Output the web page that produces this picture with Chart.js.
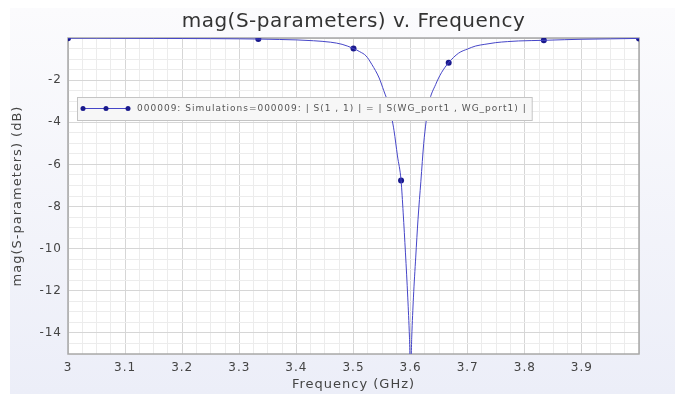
<!DOCTYPE html>
<html>
<head>
<meta charset="utf-8">
<script src="https://cdn.jsdelivr.net/npm/chart.js@4.4.1/dist/chart.umd.min.js"></script>
<style>
  html, body { margin: 0; padding: 0; background: #fff; }
  canvas { display: block; }
</style>
</head>
<body>
<canvas id="myChart" width="675" height="394"></canvas>
<script>
// ** curve (GHz, dB)
const freqGHz = [
  3.0, 3.05, 3.1, 3.15, 3.2, 3.25, 3.3, 3.3333, 3.37, 3.4, 3.43, 3.46, 3.48, 3.5,
  3.511, 3.522, 3.532, 3.545, 3.553, 3.562, 3.567, 3.571, 3.577, 3.5833, 3.587,
  3.591, 3.595, 3.598, 3.6, 3.602, 3.605, 3.609, 3.613, 3.618, 3.623, 3.627, 3.632,
  3.644, 3.654, 3.6667, 3.684, 3.7, 3.714, 3.73, 3.749, 3.77, 3.789, 3.8333, 3.87,
  3.9, 3.95, 4.0
]
const magDb = [
  -0.01, -0.01, -0.015, -0.02, -0.025, -0.03, -0.04, -0.05, -0.07, -0.09, -0.13, -0.2, -0.3, -0.5,
  -0.65, -0.85, -1.25, -1.9, -2.5, -3.2, -3.8, -4.4, -5.6, -6.76, -8.3,
  -10.2, -12.3, -14.2, -16, -14.2, -12.3, -10.4, -8.6, -6.8, -5.0, -4.0, -3.1,
  -2.2, -1.65, -1.17, -0.72, -0.52, -0.38, -0.3, -0.22, -0.17, -0.14, -0.11, -0.08,
  -0.06, -0.04, -0.02
]

// ** simulated sample points (the dots)
const sampleFreqGHz = [3.0, 3.3333, 3.5, 3.5833, 3.6667, 3.8333, 4.0]
const sampleDb = [-0.01, -0.05, -0.5, -6.76, -1.17, -0.11, -0.02]

// ** axis ticks
const xTickLabels = ['3', '3.1', '3.2', '3.3', '3.4', '3.5', '3.6', '3.7', '3.8', '3.9']
const yTickLabels = ['-2', '-4', '-6', '-8', '-10', '-12', '-14']

const chartTitle = 'mag(S-parameters) v. Frequency'
const legendText = '000009: Simulations=000009: | S(1 , 1) | = | S(WG_port1 , WG_port1) |'
const lineColor = 'rgb(70, 70, 200)'
const dotColor = 'rgb(25, 25, 140)'

const fontFamily = "'DejaVu Sans', sans-serif"

const isMajorX = v => Math.abs(v * 10 - Math.round(v * 10)) < 1e-6
const isMajorY = v => Math.abs(v / 2 - Math.round(v / 2)) < 1e-6

// the original renderer spaces its glyphs out a bit
const spacing = {
  id: 'spacing',
  beforeLayout(chart) { chart.ctx.letterSpacing = '1px' },
  beforeDraw(chart) { chart.ctx.letterSpacing = '1px' }
}

const backdrop = {
  id: 'backdrop',
  beforeDraw(chart) {
    const { ctx, chartArea: a } = chart
    ctx.save()
    ctx.fillStyle = '#ffffff'
    ctx.fillRect(0, 0, chart.width, chart.height)
    const g = ctx.createLinearGradient(0, 8, 0, chart.height)
    g.addColorStop(0, '#fbfbfd')
    g.addColorStop(1, '#eceef8')
    ctx.fillStyle = g
    ctx.fillRect(10, 8, chart.width - 10, chart.height - 8)
    ctx.fillStyle = '#ffffff'
    ctx.fillRect(a.left, a.top, a.right - a.left, a.bottom - a.top)

    // title, centred over the plot
    ctx.letterSpacing = '0.5px'
    ctx.font = '20px ' + fontFamily
    ctx.fillStyle = '#333'
    ctx.textAlign = 'center'
    ctx.textBaseline = 'middle'
    ctx.fillText(chartTitle, (a.left + a.right) / 2, 22)
    ctx.restore()
  },
  beforeDatasetsDraw(chart) {
    const { ctx, chartArea: a } = chart
    ctx.save()
    ctx.strokeStyle = '#a8a8a8'
    ctx.lineWidth = 1.5
    ctx.strokeRect(a.left, a.top, a.right - a.left, a.bottom - a.top)
    ctx.restore()
  },
  afterDraw(chart) {
    // legend box sits inside the plot
    const { ctx, chartArea: a } = chart
    ctx.save()
    ctx.letterSpacing = '1px'
    ctx.font = '9px ' + fontFamily
    const tw = ctx.measureText(legendText).width
    const x0 = a.left + 9, y0 = 97, h = 23
    const textX = x0 + 60
    const w = textX - x0 + tw + 5
    ctx.fillStyle = '#f7f7f7'
    ctx.strokeStyle = '#c4c4c4'
    ctx.lineWidth = 1
    ctx.fillRect(x0, y0, w, h)
    ctx.strokeRect(x0 + 0.5, y0 + 0.5, w, h)
    const cy = y0 + h / 2
    ctx.strokeStyle = lineColor
    ctx.beginPath()
    ctx.moveTo(x0 + 6, cy)
    ctx.lineTo(x0 + 51, cy)
    ctx.stroke()
    ctx.fillStyle = dotColor
    for (const dx of [6, 29, 51]) {
      ctx.beginPath()
      ctx.arc(x0 + dx, cy, 2.5, 0, Math.PI * 2)
      ctx.fill()
    }
    ctx.fillStyle = '#555'
    ctx.textBaseline = 'middle'
    ctx.fillText(legendText, textX, cy + 0.5)
    ctx.restore()
  }
}

const ctx = document.getElementById('myChart').getContext('2d')
const myChart = new Chart(ctx, {
  type: 'scatter',
  data: {
    datasets: [
      {
        data: freqGHz.map((f, i) => ({ x: f, y: magDb[i] })),
        showLine: true,
        borderColor: lineColor,
        borderWidth: 1,
        pointRadius: 0,
        cubicInterpolationMode: 'monotone'
      },
      {
        data: sampleFreqGHz.map((f, i) => ({ x: f, y: sampleDb[i] })),
        showLine: false,
        pointRadius: 3,
        pointBackgroundColor: dotColor,
        pointBorderColor: dotColor,
        pointBorderWidth: 0
      }
    ]
  },
  options: {
    responsive: false,
    animation: false,
    layout: { padding: { left: 0, right: 36, top: 38, bottom: 0 } },
    plugins: {
      legend: { display: false },
      tooltip: { enabled: false },
      title: { display: false }
    },
    scales: {
      x: {
        type: 'linear',
        min: 3,
        max: 4,
        afterFit: s => { s.height = 40 },
        border: { display: false },
        grid: {
          drawTicks: false,
          color: c => (isMajorX(c.tick.value) ? '#d6d6d6' : '#ececec'),
          lineWidth: 1
        },
        ticks: {
          stepSize: 0.025,
          autoSkip: false,
          maxRotation: 0,
          padding: 7,
          color: '#444',
          font: { family: fontFamily, size: 12 },
          callback: v => {
            if (!isMajorX(v)) return ''
            const lbl = String(Math.round(v * 10) / 10)
            return xTickLabels.includes(lbl) ? lbl : ''
          }
        },
        title: {
          display: true,
          text: 'Frequency (GHz)',
          color: '#444',
          font: { family: fontFamily, size: 13 },
          padding: { top: 0, bottom: 2 }
        }
      },
      y: {
        min: -15,
        max: 0,
        afterFit: s => { s.width = 68 },
        border: { display: false },
        grid: {
          drawTicks: false,
          color: c => (isMajorY(c.tick.value) ? '#d6d6d6' : '#ececec'),
          lineWidth: 1
        },
        ticks: {
          stepSize: 0.5,
          autoSkip: false,
          padding: 6,
          color: '#444',
          font: { family: fontFamily, size: 12 },
          callback: v => {
            if (!isMajorY(v)) return ''
            const lbl = String(Math.round(v))
            return yTickLabels.includes(lbl) ? lbl : ''
          }
        },
        title: {
          display: true,
          text: 'mag(S-parameters) (dB)',
          color: '#444',
          font: { family: fontFamily, size: 13 },
          padding: { top: 10, bottom: 0 }
        }
      }
    }
  },
  plugins: [spacing, backdrop]
})
</script>
</body>
</html>
